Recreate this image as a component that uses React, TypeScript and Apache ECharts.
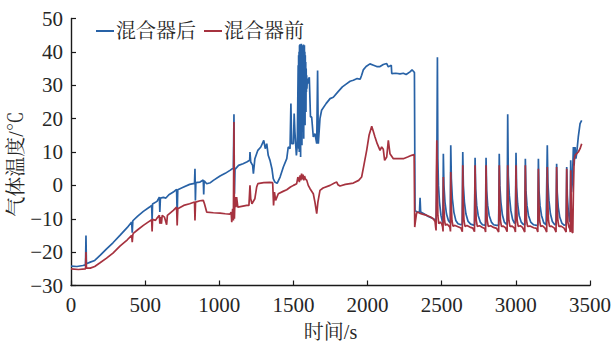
import React, { useEffect, useRef } from "react";
import * as echarts from "echarts";

const seriesNames = ["混合器后", "混合器前"];
const xTicks = { min: 0, max: 3500, interval: 500 };
const yTicks = { min: -30, max: 50, interval: 10 };

// 混合器后 (after mixer): [time s, temperature °C]
const afterMixer: [number, number][] = [
  [0,-24.2],[40,-24.3],[80,-24],[98,-23.8],[101,-15],[104,-23.5],[130,-23],[160,-22.5],[196,-21],[240,-19],
  [283,-17.2],[330,-15],[380,-12.6],[409,-11],[413,-14.2],[417,-10.6],[450,-9.2],[488,-7.8],[530,-6.5],[544,-6],
  [547,-10.5],[550,-5.6],[580,-4.8],[596,-3.5],[599,-8],[603,-3.8],[623,-3.6],[640,-3.8],[660,-2.8],[690,-2],
  [712,-1.2],[716,-9],[720,-1.3],[760,-0.5],[800,0.3],[833,0.6],[836,5],[839,-4.5],[842,0.8],[870,1],
  [892,1.6],[895,-2.7],[898,1.4],[915,0.5],[940,0.8],[960,1.5],[1005,2.8],[1040,3.6],[1072,4.5],[1095,5.2],
  [1099,21.3],[1102,-2.5],[1106,4.8],[1130,6],[1160,6.5],[1185,7],[1205,7.5],[1207,10],[1212,7],[1225,6],
  [1230,3.5],[1240,8],[1260,10.5],[1280,11.5],[1300,13.5],[1310,11],[1320,12.5],[1330,9],[1342,7.5],[1355,5],
  [1364,2],[1375,1],[1390,0.6],[1410,2.5],[1432,5.5],[1455,8],[1465,11.5],[1477,11],[1483,24.5],[1488,12.5],
  [1500,12.5],[1505,21.5],[1510,16],[1520,9],[1526,12],[1530,12],[1532,36],[1533.5,14],[1535,39],[1536.5,11],
  [1538,40],[1539.5,10],[1541,42],[1542.5,18],[1544,42.3],[1545.5,12],[1547,41],[1548.5,8.5],[1550,40.5],[1551.5,15],
  [1553,42.4],[1554.5,20],[1556,40],[1557.5,12],[1559,41.5],[1560.5,22],[1562,42],[1563.5,16],[1565,40.5],[1566.5,24],
  [1568,42.2],[1569.5,14],[1571,41],[1572.5,20],[1574,42],[1575.5,26],[1577,40],[1578.5,18],[1580,39],[1581.5,25],
  [1583,37],[1584.5,22],[1586,35],[1587.5,28],[1589,33],[1591,29],[1594,32],[1597,30.5],[1600,31.4],
  [1607,32.4],[1615,20.5],[1623,20.5],[1634,14.5],[1645,15.5],[1657,12.5],[1663,34.4],[1668,12.5],[1679,20],[1690,22.5],
  [1720,24.5],[1747,26],[1769,26.4],[1800,28],[1830,29.5],[1860,30.5],[1882,31.2],[1904,31.5],[1930,32],[1950,31.8],
  [1960,33],[1971,34.6],[1990,35.6],[2016,36.4],[2040,36],[2062,35.6],[2084,35.6],[2106,36.2],[2129,36.5],[2140,35.5],
  [2151,35.8],[2160,36],[2163,33.5],[2190,33.6],[2219,33.4],[2241,33.6],[2260,33.2],[2286,34],[2300,34.6],[2309,34.2],
  [2316,33.8],[2320,-7.5],[2335,-8],[2350,-8],[2354,-3.7],[2358,-8],[2380,-8.5],[2410,-9.3],[2443,-10],[2462,-10.5],
  [2466,-2],[2471,38.4],[2474,8],[2478,0],[2485,-5],[2495,-9],[2505,-11],[2508,-11.3],[2511,9.5],[2515,0],
  [2522,-5],[2532,-8.5],[2545,-10.5],[2556,-11.2],[2558,-11],[2561,12],[2565,2],[2572,-4],[2582,-8],[2595,-10.5],
  [2610,-11.5],[2630,-11.8],[2638,-11.6],[2642,10],[2646,0],[2653,-5],[2663,-8.5],[2678,-10.8],[2695,-11.6],[2715,-11.9],
  [2721,-11.8],[2725,8.3],[2729,-1],[2736,-6],[2746,-9],[2760,-11],[2775,-11.8],[2795,-12],[2799,8.3],[2803,-1.5],
  [2810,-6],[2820,-9],[2835,-11],[2850,-11.8],[2870,-12],[2884,-11.9],[2888,9.5],[2892,0],[2899,-5],[2909,-8.8],
  [2922,-11],[2935,-11.6],[2941,-11.5],[2945,21.3],[2949,3],[2956,-3],[2966,-7.5],[2978,-10.2],[2990,-11.3],[2997,-11.2],
  [3001,9.8],[3005,-0.5],[3012,-5.5],[3022,-9],[3036,-11],[3050,-11.7],[3060,-11.8],[3064,8],[3068,-1.5],[3075,-6],
  [3085,-9],[3100,-11],[3120,-11.8],[3140,-12],[3148,-11.9],[3152,8],[3156,-1.5],[3163,-6],[3173,-9],[3188,-11.2],
  [3204,-11.8],[3208,-11.7],[3212,12],[3216,1],[3223,-4.5],[3233,-8.5],[3246,-10.8],[3262,-11.8],[3271,-11.7],[3275,6.5],
  [3279,-2],[3286,-6.5],[3296,-9.5],[3310,-11.3],[3325,-11.9],[3339,-11.8],[3343,5.5],[3347,-3],[3354,-8],[3362,-10.5],
  [3366,-11],[3370,7.5],[3375,-2],[3381,1],[3388,11.5],[3393,6],[3399,11.5],[3405,8],[3410,9.5],[3421,14.5],
  [3433,18.5],[3444,19.5],
];

// 混合器前 (before mixer): [time s, temperature °C]
const beforeMixer: [number, number][] = [
  [0,-25],[50,-25.2],[98,-25],[101,-20],[104,-24.8],[130,-24.8],[160,-24.3],[196,-23.2],[240,-21.8],[283,-20.3],
  [330,-18.2],[380,-16.3],[409,-15],[413,-17],[417,-14.8],[420,-14.4],[450,-13.3],[488,-12],[520,-11],[544,-10.3],
  [547,-13.8],[550,-10.2],[570,-10.5],[580,-9.8],[596,-9],[599,-11.5],[603,-9.5],[610,-11.5],[615,-9],[630,-9.5],
  [645,-11.8],[650,-9],[690,-7.5],[712,-6.5],[716,-12],[720,-7],[760,-6],[800,-5.5],[833,-5],[836,-10.5],
  [840,-5],[870,-4.6],[892,-4.5],[900,-5.5],[915,-8],[960,-8.2],[1005,-8.3],[1040,-8.5],[1072,-8.6],[1080,-8],
  [1084,-11],[1090,-7],[1095,-10.5],[1099,19],[1102,-10],[1106,-3.5],[1112,-6.5],[1117,-3.5],[1125,-6.5],[1185,-6],
  [1200,-6],[1207,0],[1212,-4],[1220,-5.5],[1240,-4],[1252,-0.5],[1260,0.5],[1300,0.8],[1340,0.9],[1360,0.8],
  [1366,-6],[1372,-2],[1380,-4.5],[1398,-2.5],[1430,-1.8],[1455,-1.3],[1480,-0.5],[1500,0],[1522,0.5],[1530,2.5],
  [1540,1],[1545,3],[1550,1.5],[1555,3.5],[1560,1.8],[1565,3.2],[1570,1.5],[1575,2.8],[1580,2],[1590,1.5],
  [1600,0],[1612,-1],[1634,-2.5],[1645,-5],[1657,-8.5],[1665,-5],[1679,-1.5],[1700,-0.8],[1747,0],[1780,0.8],
  [1792,1],[1800,0.2],[1814,-0.2],[1850,0.3],[1904,0.7],[1940,1.5],[1960,2.5],[1975,6],[1994,10.5],[2010,15],
  [2028,17.7],[2040,16],[2050,14.5],[2065,12.5],[2084,10.5],[2095,11.5],[2106,10.8],[2115,7.5],[2129,8.5],[2140,13.5],
  [2151,9.5],[2174,8],[2200,8],[2241,8],[2270,8.5],[2297,9],[2314,9.2],[2318,-12.5],[2322,-11],[2330,-8.5],
  [2335,-8],[2350,-8.3],[2370,-8.6],[2400,-9],[2425,-9.5],[2443,-10],[2455,-10.8],[2459,-12.5],[2462,-13.5],[2464,2],
  [2467,13.5],[2470,3],[2474,-9],[2480,-11.5],[2490,-11],[2500,-11.5],[2506,-12.5],[2509,-13.8],[2511,2.5],[2514,-6],
  [2519,-10.5],[2525,-12],[2535,-11.6],[2545,-12],[2555,-12.5],[2559,-13.8],[2561,4],[2564,-5],[2569,-10.5],[2576,-12.2],
  [2590,-12],[2610,-12.4],[2630,-12.8],[2639,-13.9],[2642,6],[2645,-4],[2650,-10.5],[2657,-12.3],[2670,-12],[2690,-12.5],
  [2710,-12.8],[2721,-13.9],[2725,6],[2728,-4],[2733,-10.5],[2740,-12.3],[2755,-12.1],[2775,-12.6],[2790,-12.9],[2796,-14],
  [2799,6],[2802,-4],[2807,-10.5],[2814,-12.3],[2830,-12.1],[2850,-12.6],[2870,-12.9],[2884,-14],[2888,6],[2891,-4],
  [2896,-10.5],[2903,-12.3],[2915,-12.2],[2930,-12.7],[2941,-13.9],[2945,6],[2948,-4],[2953,-10.5],[2960,-12.3],[2975,-12.2],
  [2990,-12.8],[2997,-14],[3001,6],[3004,-4],[3009,-10.5],[3016,-12.3],[3030,-12.1],[3045,-12.6],[3060,-14],[3064,6],
  [3067,-4],[3072,-10.5],[3079,-12.3],[3095,-12.2],[3120,-12.7],[3140,-12.9],[3148,-14],[3152,5],[3155,-4.5],[3160,-10.5],
  [3167,-12.3],[3180,-12.1],[3195,-12.7],[3208,-14],[3212,5.5],[3215,-4.5],[3220,-10.5],[3227,-12.3],[3240,-12.2],[3260,-12.8],
  [3271,-14],[3275,5.5],[3278,-4.5],[3283,-10.5],[3290,-12.3],[3305,-12.2],[3325,-12.8],[3339,-14],[3343,5],[3346,-5],
  [3351,-11],[3358,-12.5],[3364,-13],[3367,-14],[3370,4.5],[3374,-6],[3379,-14],[3384,-14.2],[3388,-2],[3393,7.5],
  [3399,9],[3410,9.5],[3421,10],[3433,11],[3444,12.5],
];

const BLUE = "#2862a6";
const RED = "#a6323f";
const SERIF = "Liberation Serif, Noto Serif CJK SC, serif";
const TEXT = "#262626";

export default function App() {
  const ref = useRef<HTMLDivElement>(null);
  useEffect(() => {
    if (!ref.current) return;
    const chart = echarts.init(ref.current, undefined, { renderer: "svg" });
    const axisCommon = {
      axisLine: { show: true, onZero: false, lineStyle: { color: "#1a1a1a", width: 1.4 } },
      axisTick: { show: true, inside: true, length: 5, lineStyle: { color: "#1a1a1a", width: 1.2 } },
      splitLine: { show: false },
      nameMoveOverlap: false,
    };
    chart.setOption({
      animation: false,
      backgroundColor: "#ffffff",
      textStyle: { fontFamily: SERIF },
      grid: { left: 71, right: 21, top: 18.5, bottom: 56.5, containLabel: false, outerBoundsMode: "none" },
      legend: {
        left: 91,
        top: 16,
        itemGap: 8,
        itemWidth: 18,
        itemHeight: 2,
        icon: "rect",
        textStyle: { fontSize: 20, color: TEXT, fontFamily: SERIF, padding: [0, 0, 0, -3] },
        data: seriesNames,
      },
      xAxis: {
        type: "value",
        min: xTicks.min,
        max: xTicks.max,
        interval: xTicks.interval,
        name: "时间/s",
        nameLocation: "middle",
        nameGap: 36,
        nameTextStyle: { fontSize: 20, color: TEXT, fontFamily: SERIF },
        axisLabel: { fontSize: 21, color: TEXT, fontFamily: SERIF, margin: 9, formatter: (v: number) => String(v) },
        ...axisCommon,
      },
      yAxis: {
        type: "value",
        min: yTicks.min,
        max: yTicks.max,
        interval: yTicks.interval,
        name: "气体温度/℃",
        nameLocation: "middle",
        nameGap: 45,
        nameTextStyle: { fontSize: 20, color: TEXT, fontFamily: SERIF, padding: [0, 24, 0, 0] },
        axisLabel: {
          fontSize: 21,
          color: TEXT,
          fontFamily: SERIF,
          margin: 8,
          formatter: (v: number) => String(v).replace("-", "−"),
        },
        ...axisCommon,
      },
      series: [
        {
          name: seriesNames[0],
          type: "line",
          data: afterMixer,
          showSymbol: false,
          symbol: "none",
          lineStyle: { color: BLUE, width: 1.7 },
          itemStyle: { color: BLUE },
        },
        {
          name: seriesNames[1],
          type: "line",
          data: beforeMixer,
          showSymbol: false,
          symbol: "none",
          lineStyle: { color: RED, width: 1.7 },
          itemStyle: { color: RED },
        },
      ],
    });
    return () => chart.dispose();
  }, []);
  return <div ref={ref} style={{ width: 611, height: 342, position: "absolute", left: 0, top: 0 }} />;
}
